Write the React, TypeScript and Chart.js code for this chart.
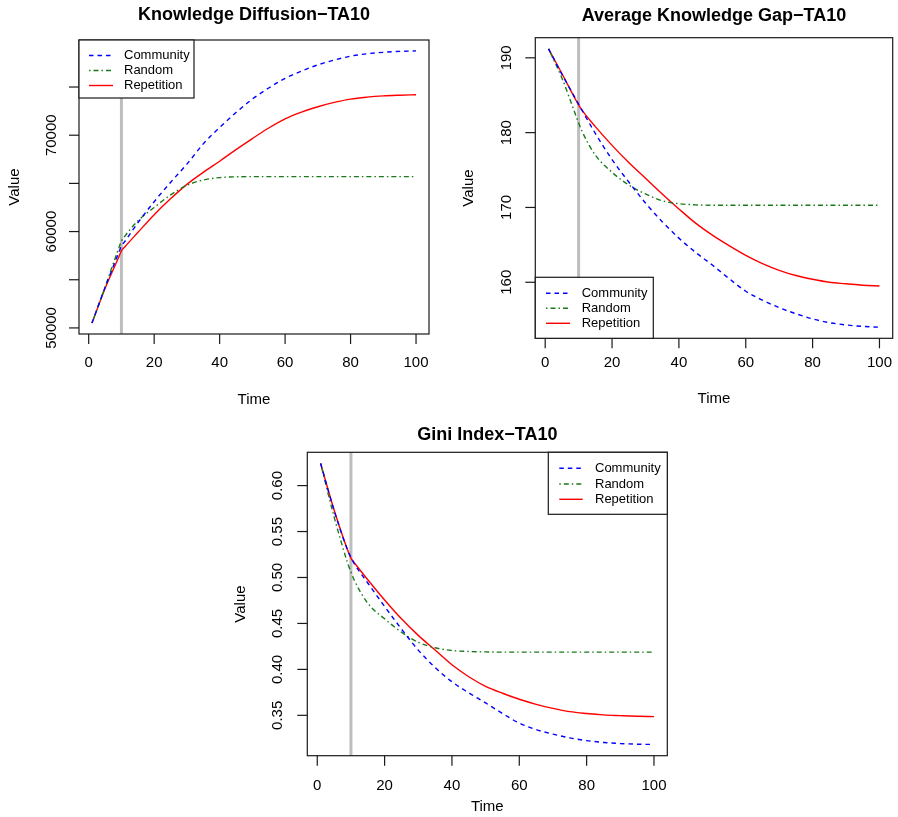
import React, { useEffect, useRef } from "react";
import { Chart, registerables } from "chart.js";

Chart.register(...registerables);

// ---------------- data ----------------
const time = [1, 5, 9, 10, 11, 15, 20, 25, 30, 35, 40, 45, 50, 55, 60, 65, 70, 75, 80, 85, 90, 95, 100];
const seriesNames = ["Community", "Random", "Repetition"];

const diffusionCommunity = [50500, 54200, 57650, 58500, 58950, 60900, 63100, 65100, 67000, 69100, 70800, 72350, 73750, 74900, 75900, 76650, 77300, 77800, 78200, 78450, 78600, 78700, 78750];
const diffusionRandom = [50500, 54250, 58100, 59000, 59500, 61100, 62500, 63800, 64800, 65350, 65600, 65680, 65700, 65700, 65700, 65700, 65700, 65700, 65700, 65700, 65700, 65700, 65700];
const diffusionRepetition = [50500, 54100, 57200, 58000, 58400, 59900, 61750, 63400, 64900, 66150, 67300, 68500, 69650, 70750, 71700, 72400, 72950, 73400, 73750, 73950, 74080, 74150, 74200];

const gapCommunity = [191.2, 187.8, 184.6, 183.8, 183.0, 179.9, 176.4, 173.4, 170.6, 168.1, 165.9, 164.0, 162.3, 160.5, 158.8, 157.6, 156.6, 155.8, 155.1, 154.6, 154.3, 154.1, 154.0];
const gapRandom = [191.2, 187.3, 182.5, 181.3, 180.2, 177.0, 174.7, 173.0, 171.8, 170.9, 170.5, 170.35, 170.3, 170.3, 170.3, 170.3, 170.3, 170.3, 170.3, 170.3, 170.3, 170.3, 170.3];
const gapRepetition = [191.2, 187.9, 184.5, 183.7, 183.0, 180.8, 178.3, 176.0, 173.9, 171.8, 169.8, 167.9, 166.3, 164.9, 163.6, 162.5, 161.6, 160.9, 160.4, 160.0, 159.8, 159.6, 159.5];

const giniCommunity = [0.624, 0.573, 0.530, 0.522, 0.515, 0.494, 0.4685, 0.444, 0.421, 0.402, 0.3865, 0.3745, 0.3635, 0.352, 0.3415, 0.3345, 0.3295, 0.3255, 0.3225, 0.3205, 0.3193, 0.3186, 0.3183];
const giniRandom = [0.624, 0.566, 0.516, 0.506, 0.497, 0.472, 0.455, 0.4405, 0.4295, 0.4235, 0.4205, 0.4195, 0.419, 0.4188, 0.4188, 0.4188, 0.4188, 0.4188, 0.4188, 0.4188, 0.4188, 0.4188, 0.4188];
const giniRepetition = [0.624, 0.5735, 0.530, 0.521, 0.516, 0.4975, 0.4755, 0.455, 0.437, 0.421, 0.405, 0.392, 0.3815, 0.374, 0.3675, 0.362, 0.3575, 0.354, 0.352, 0.3505, 0.3497, 0.349, 0.3486];

const timeTicks = [0, 20, 40, 60, 80, 100];
const diffusionTicks = [50000, 55000, 60000, 65000, 70000, 75000];
const diffusionTickLabels = ["50000", "", "60000", "", "70000", ""];
const gapTicks = [160, 170, 180, 190];
const gapTickLabels = ["160", "170", "180", "190"];
const giniTicks = [0.35, 0.4, 0.45, 0.5, 0.55, 0.6];
const giniTickLabels = ["0.35", "0.40", "0.45", "0.50", "0.55", "0.60"];

const treatmentTime = 10;
const titles = ["Knowledge Diffusion\u2212TA10", "Average Knowledge Gap\u2212TA10", "Gini Index\u2212TA10"];
const xTitle = "Time";
const yTitle = "Value";

// ---------------- styles / layout ----------------
const W = 898;
const H = 817;
const FONT = '"Liberation Sans", Arial, Helvetica, sans-serif';
const lineStyles = [
  { color: "#0000ff", dash: [4.5, 4] },
  { color: "#1a7a1a", dash: [1.5, 3, 5, 3] },
  { color: "#ff0000", dash: [] as number[] },
];

type Legend = { left: number; top: number; right: number; bottom: number; rowY: number[]; lineX1: number; lineX2: number; textX: number };
type PanelCfg = {
  title: string;
  series: number[][];
  yTicks: number[];
  yTickLabels: string[];
  area: { left: number; top: number; right: number; bottom: number };
  titleY: number;
  xTickLabelY: number;
  xTitleY: number;
  yTickLabelX: number;
  yTitleX: number;
  legend: Legend;
};

const panels: PanelCfg[] = [
  {
    title: titles[0],
    series: [diffusionCommunity, diffusionRandom, diffusionRepetition],
    yTicks: diffusionTicks,
    yTickLabels: diffusionTickLabels,
    area: { left: 79, top: 40, right: 429, bottom: 334 },
    titleY: 15,
    xTickLabelY: 362.7,
    xTitleY: 400,
    yTickLabelX: 51.7,
    yTitleX: 15,
    legend: { left: 79, top: 40, right: 194, bottom: 98, rowY: [55.5, 70.5, 85.5], lineX1: 89, lineX2: 113, textX: 124 },
  },
  {
    title: titles[1],
    series: [gapCommunity, gapRandom, gapRepetition],
    yTicks: gapTicks,
    yTickLabels: gapTickLabels,
    area: { left: 535.3, top: 37.7, right: 892.7, bottom: 338.3 },
    titleY: 16,
    xTickLabelY: 362.7,
    xTitleY: 399,
    yTickLabelX: 506.7,
    yTitleX: 469,
    legend: { left: 535.3, top: 277.3, right: 653.3, bottom: 338.3, rowY: [293.3, 308.3, 323.3], lineX1: 546, lineX2: 570, textX: 581.7 },
  },
  {
    title: titles[2],
    series: [giniCommunity, giniRandom, giniRepetition],
    yTicks: giniTicks,
    yTickLabels: giniTickLabels,
    area: { left: 307.3, top: 452.3, right: 667.3, bottom: 755.7 },
    titleY: 435,
    xTickLabelY: 785.7,
    xTitleY: 807.3,
    yTickLabelX: 278.3,
    yTitleX: 240.7,
    legend: { left: 548.3, top: 452.3, right: 667.3, bottom: 514.3, rowY: [468.3, 484, 499.3], lineX1: 559.3, lineX2: 582.7, textX: 595 },
  },
];

function padRange(values: number[]): [number, number] {
  const lo = Math.min(...values);
  const hi = Math.max(...values);
  const p = (hi - lo) * 0.04;
  return [lo - p, hi + p];
}

function Panel({ cfg }: { cfg: PanelCfg }) {
  const ref = useRef<HTMLCanvasElement | null>(null);
  useEffect(() => {
    const canvas = ref.current;
    if (!canvas) return;
    const [ymin, ymax] = padRange(cfg.series.flat());
    const [xmin, xmax] = padRange(time);
    const a = cfg.area;

    const rPlugin = {
      id: "rstyle",
      beforeDatasetsDraw(chart: any) {
        const ctx = chart.ctx as CanvasRenderingContext2D;
        const ca = chart.chartArea;
        const px = chart.scales.x.getPixelForValue(treatmentTime);
        ctx.save();
        ctx.strokeStyle = "#bebebe";
        ctx.lineWidth = 3;
        ctx.beginPath();
        ctx.moveTo(px, ca.top);
        ctx.lineTo(px, ca.bottom);
        ctx.stroke();
        ctx.restore();
      },
      afterDraw(chart: any) {
        const ctx = chart.ctx as CanvasRenderingContext2D;
        const ca = chart.chartArea;
        const xs = chart.scales.x;
        const ys = chart.scales.y;
        ctx.save();
        ctx.strokeStyle = "#1a1a1a";
        ctx.lineWidth = 1.2;
        ctx.setLineDash([]);
        ctx.strokeRect(ca.left, ca.top, ca.right - ca.left, ca.bottom - ca.top);
        ctx.fillStyle = "#000";
        ctx.font = `15px ${FONT}`;
        ctx.textAlign = "center";
        ctx.textBaseline = "middle";
        timeTicks.forEach((t) => {
          const px = xs.getPixelForValue(t);
          ctx.beginPath();
          ctx.moveTo(px, ca.bottom);
          ctx.lineTo(px, ca.bottom + 10);
          ctx.stroke();
          ctx.fillText(String(t), px, cfg.xTickLabelY);
        });
        cfg.yTicks.forEach((v, i) => {
          const py = ys.getPixelForValue(v);
          ctx.beginPath();
          ctx.moveTo(ca.left - 10, py);
          ctx.lineTo(ca.left, py);
          ctx.stroke();
          const lab = cfg.yTickLabels[i];
          if (lab) {
            ctx.save();
            ctx.translate(cfg.yTickLabelX, py);
            ctx.rotate(-Math.PI / 2);
            ctx.fillText(lab, 0, 0);
            ctx.restore();
          }
        });
        ctx.fillText(xTitle, (ca.left + ca.right) / 2, cfg.xTitleY);
        ctx.save();
        ctx.translate(cfg.yTitleX, (ca.top + ca.bottom) / 2);
        ctx.rotate(-Math.PI / 2);
        ctx.fillText(yTitle, 0, 0);
        ctx.restore();
        ctx.font = `bold 18px ${FONT}`;
        ctx.fillText(cfg.title, (ca.left + ca.right) / 2, cfg.titleY);
        const lg = cfg.legend;
        ctx.fillStyle = "#fff";
        ctx.fillRect(lg.left, lg.top, lg.right - lg.left, lg.bottom - lg.top);
        ctx.strokeStyle = "#1a1a1a";
        ctx.lineWidth = 1.2;
        ctx.strokeRect(lg.left, lg.top, lg.right - lg.left, lg.bottom - lg.top);
        ctx.font = `13px ${FONT}`;
        ctx.textAlign = "left";
        seriesNames.forEach((name, i) => {
          const y = lg.rowY[i];
          ctx.strokeStyle = lineStyles[i].color;
          ctx.lineWidth = 1.4;
          ctx.setLineDash(lineStyles[i].dash);
          ctx.beginPath();
          ctx.moveTo(lg.lineX1, y);
          ctx.lineTo(lg.lineX2, y);
          ctx.stroke();
          ctx.setLineDash([]);
          ctx.fillStyle = "#000";
          ctx.fillText(name, lg.textX, y);
        });
        ctx.restore();
      },
    };

    const chart = new Chart(canvas, {
      type: "line",
      data: {
        datasets: cfg.series.map((vals, i) => ({
          label: seriesNames[i],
          data: time.map((t, j) => ({ x: t, y: vals[j] })),
          borderColor: lineStyles[i].color,
          borderDash: lineStyles[i].dash,
          borderWidth: 1.4,
          pointRadius: 0,
          fill: false,
          cubicInterpolationMode: "monotone" as const,
        })),
      },
      options: {
        responsive: false,
        animation: false,
        devicePixelRatio: 1,
        events: [],
        layout: { padding: { left: a.left, top: a.top, right: W - a.right, bottom: H - a.bottom } },
        scales: {
          x: { type: "linear", min: xmin, max: xmax, display: false },
          y: { type: "linear", min: ymin, max: ymax, display: false },
        },
        plugins: { legend: { display: false }, tooltip: { enabled: false }, title: { display: false } },
      },
      plugins: [rPlugin],
    } as any);
    return () => chart.destroy();
  }, [cfg]);
  return <canvas ref={ref} width={W} height={H} style={{ position: "absolute", left: 0, top: 0 }} />;
}

export default function App() {
  return (
    <div style={{ position: "absolute", left: 0, top: 0, width: W, height: H, background: "#fff", overflow: "hidden" }}>
      {panels.map((p, i) => (
        <Panel key={i} cfg={p} />
      ))}
    </div>
  );
}
